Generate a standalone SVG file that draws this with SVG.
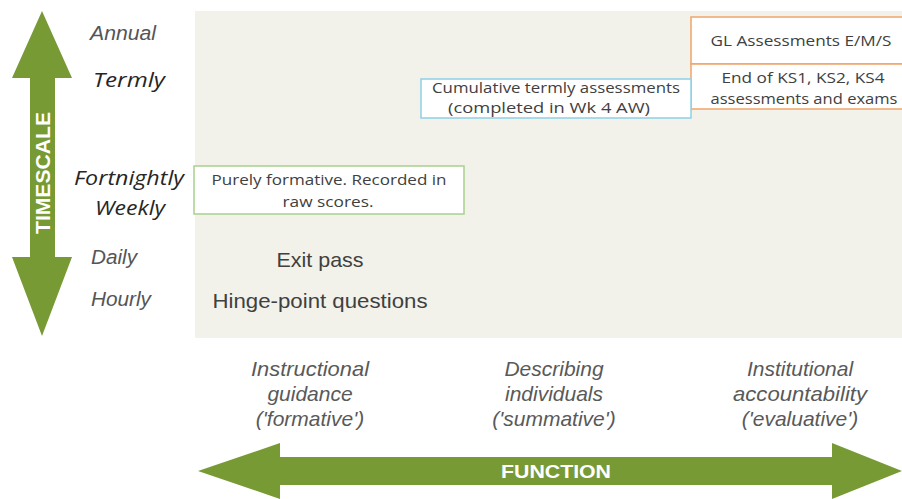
<svg xmlns="http://www.w3.org/2000/svg" width="902" height="499" viewBox="0 0 902 499">
<style>
.axis{fill:#779a35}
.axlbl{font-family:"Liberation Sans",Arial,sans-serif;font-weight:bold;fill:#ffffff;text-anchor:middle}
.box{fill:#ffffff;stroke-width:1.5}
.bt{font-family:"Open Sans","Liberation Sans",sans-serif;font-size:14px;fill:#404040;text-anchor:middle}
.tl{font-family:"Liberation Sans",Arial,sans-serif;font-style:italic;font-size:20px;fill:#555555;text-anchor:middle}
.tl2{font-family:"Open Sans","Liberation Sans",sans-serif;font-style:italic;font-size:20px;fill:#262626;text-anchor:middle}
.fl{font-family:"Liberation Sans",Arial,sans-serif;font-style:italic;font-size:21px;fill:#595959;text-anchor:middle}
.it{font-family:"Liberation Sans",Arial,sans-serif;font-size:21px;fill:#404040;text-anchor:middle}
</style>
<rect x="0" y="0" width="902" height="499" fill="#ffffff"/>
<rect id="panel" x="195" y="11" width="707" height="327" fill="#f2f2eb"/>
<g id="axes">
<polygon class="axis" points="42,11 72,78 55,78 55,257 72,257 42,336 12,257 30,257 30,78 12,78"/>
<text class="axlbl" font-size="21" transform="translate(50,173) rotate(-90)" textLength="122" lengthAdjust="spacingAndGlyphs">TIMESCALE</text>
<polygon class="axis" points="198,471 280,443 280,457 832,457 832,443 902,471 832,499 832,485 280,485 280,499"/>
<text class="axlbl" x="556" y="478" font-size="19" textLength="110" lengthAdjust="spacingAndGlyphs">FUNCTION</text>
</g>
<g id="timescale-labels">
<text class="tl" x="123" y="40" textLength="66" lengthAdjust="spacingAndGlyphs">Annual</text>
<text class="tl2" x="129" y="87" font-size="21" textLength="72" lengthAdjust="spacingAndGlyphs">Termly</text>
<text class="tl2" x="129" y="185" textLength="110" lengthAdjust="spacingAndGlyphs">Fortnightly</text>
<text class="tl2" x="130" y="215" textLength="70" lengthAdjust="spacingAndGlyphs">Weekly</text>
<text class="tl" x="114" y="264" textLength="46" lengthAdjust="spacingAndGlyphs">Daily</text>
<text class="tl" x="121" y="306" textLength="60" lengthAdjust="spacingAndGlyphs">Hourly</text>
</g>
<g id="function-labels">
<text class="fl" x="310" y="376" textLength="118" lengthAdjust="spacingAndGlyphs">Instructional</text>
<text class="fl" x="310" y="401">guidance</text>
<text class="fl" x="310" y="426">('formative')</text>
<text class="fl" x="554" y="376">Describing</text>
<text class="fl" x="554" y="401">individuals</text>
<text class="fl" x="554" y="426">('summative')</text>
<text class="fl" x="800" y="376">Institutional</text>
<text class="fl" x="800" y="401" textLength="134" lengthAdjust="spacingAndGlyphs">accountability</text>
<text class="fl" x="800" y="426">('evaluative')</text>
</g>
<g id="node-gl">
<rect class="box" x="691" y="17" width="215" height="47" stroke="#f0a46a"/>
<text class="bt" x="801" y="46" textLength="181" lengthAdjust="spacingAndGlyphs">GL Assessments E/M/S</text>
</g>
<g id="node-ks">
<rect class="box" x="691" y="64" width="215" height="45" stroke="#f0a46a"/>
<text class="bt" x="803" y="83" textLength="163" lengthAdjust="spacingAndGlyphs">End of KS1, KS2, KS4</text>
<text class="bt" x="804" y="104" textLength="187" lengthAdjust="spacingAndGlyphs">assessments and exams</text>
</g>
<g id="node-cumulative">
<rect class="box" x="421" y="79" width="270" height="39" stroke="#8fd0e6"/>
<text class="bt" x="556" y="93" textLength="248" lengthAdjust="spacingAndGlyphs">Cumulative termly assessments</text>
<text class="bt" x="549" y="113" textLength="202" lengthAdjust="spacingAndGlyphs">(completed in Wk 4 AW)</text>
</g>
<g id="node-formative">
<rect class="box" x="194" y="166" width="270" height="48" stroke="#a9d18e"/>
<text class="bt" x="329" y="185" textLength="235" lengthAdjust="spacingAndGlyphs">Purely formative. Recorded in</text>
<text class="bt" x="328" y="207" textLength="91" lengthAdjust="spacingAndGlyphs">raw scores.</text>
</g>
<g id="node-exit">
<text class="it" x="320" y="267" textLength="87" lengthAdjust="spacingAndGlyphs">Exit pass</text>
</g>
<g id="node-hinge">
<text class="it" x="320" y="308" textLength="215" lengthAdjust="spacingAndGlyphs">Hinge-point questions</text>
</g>
</svg>
